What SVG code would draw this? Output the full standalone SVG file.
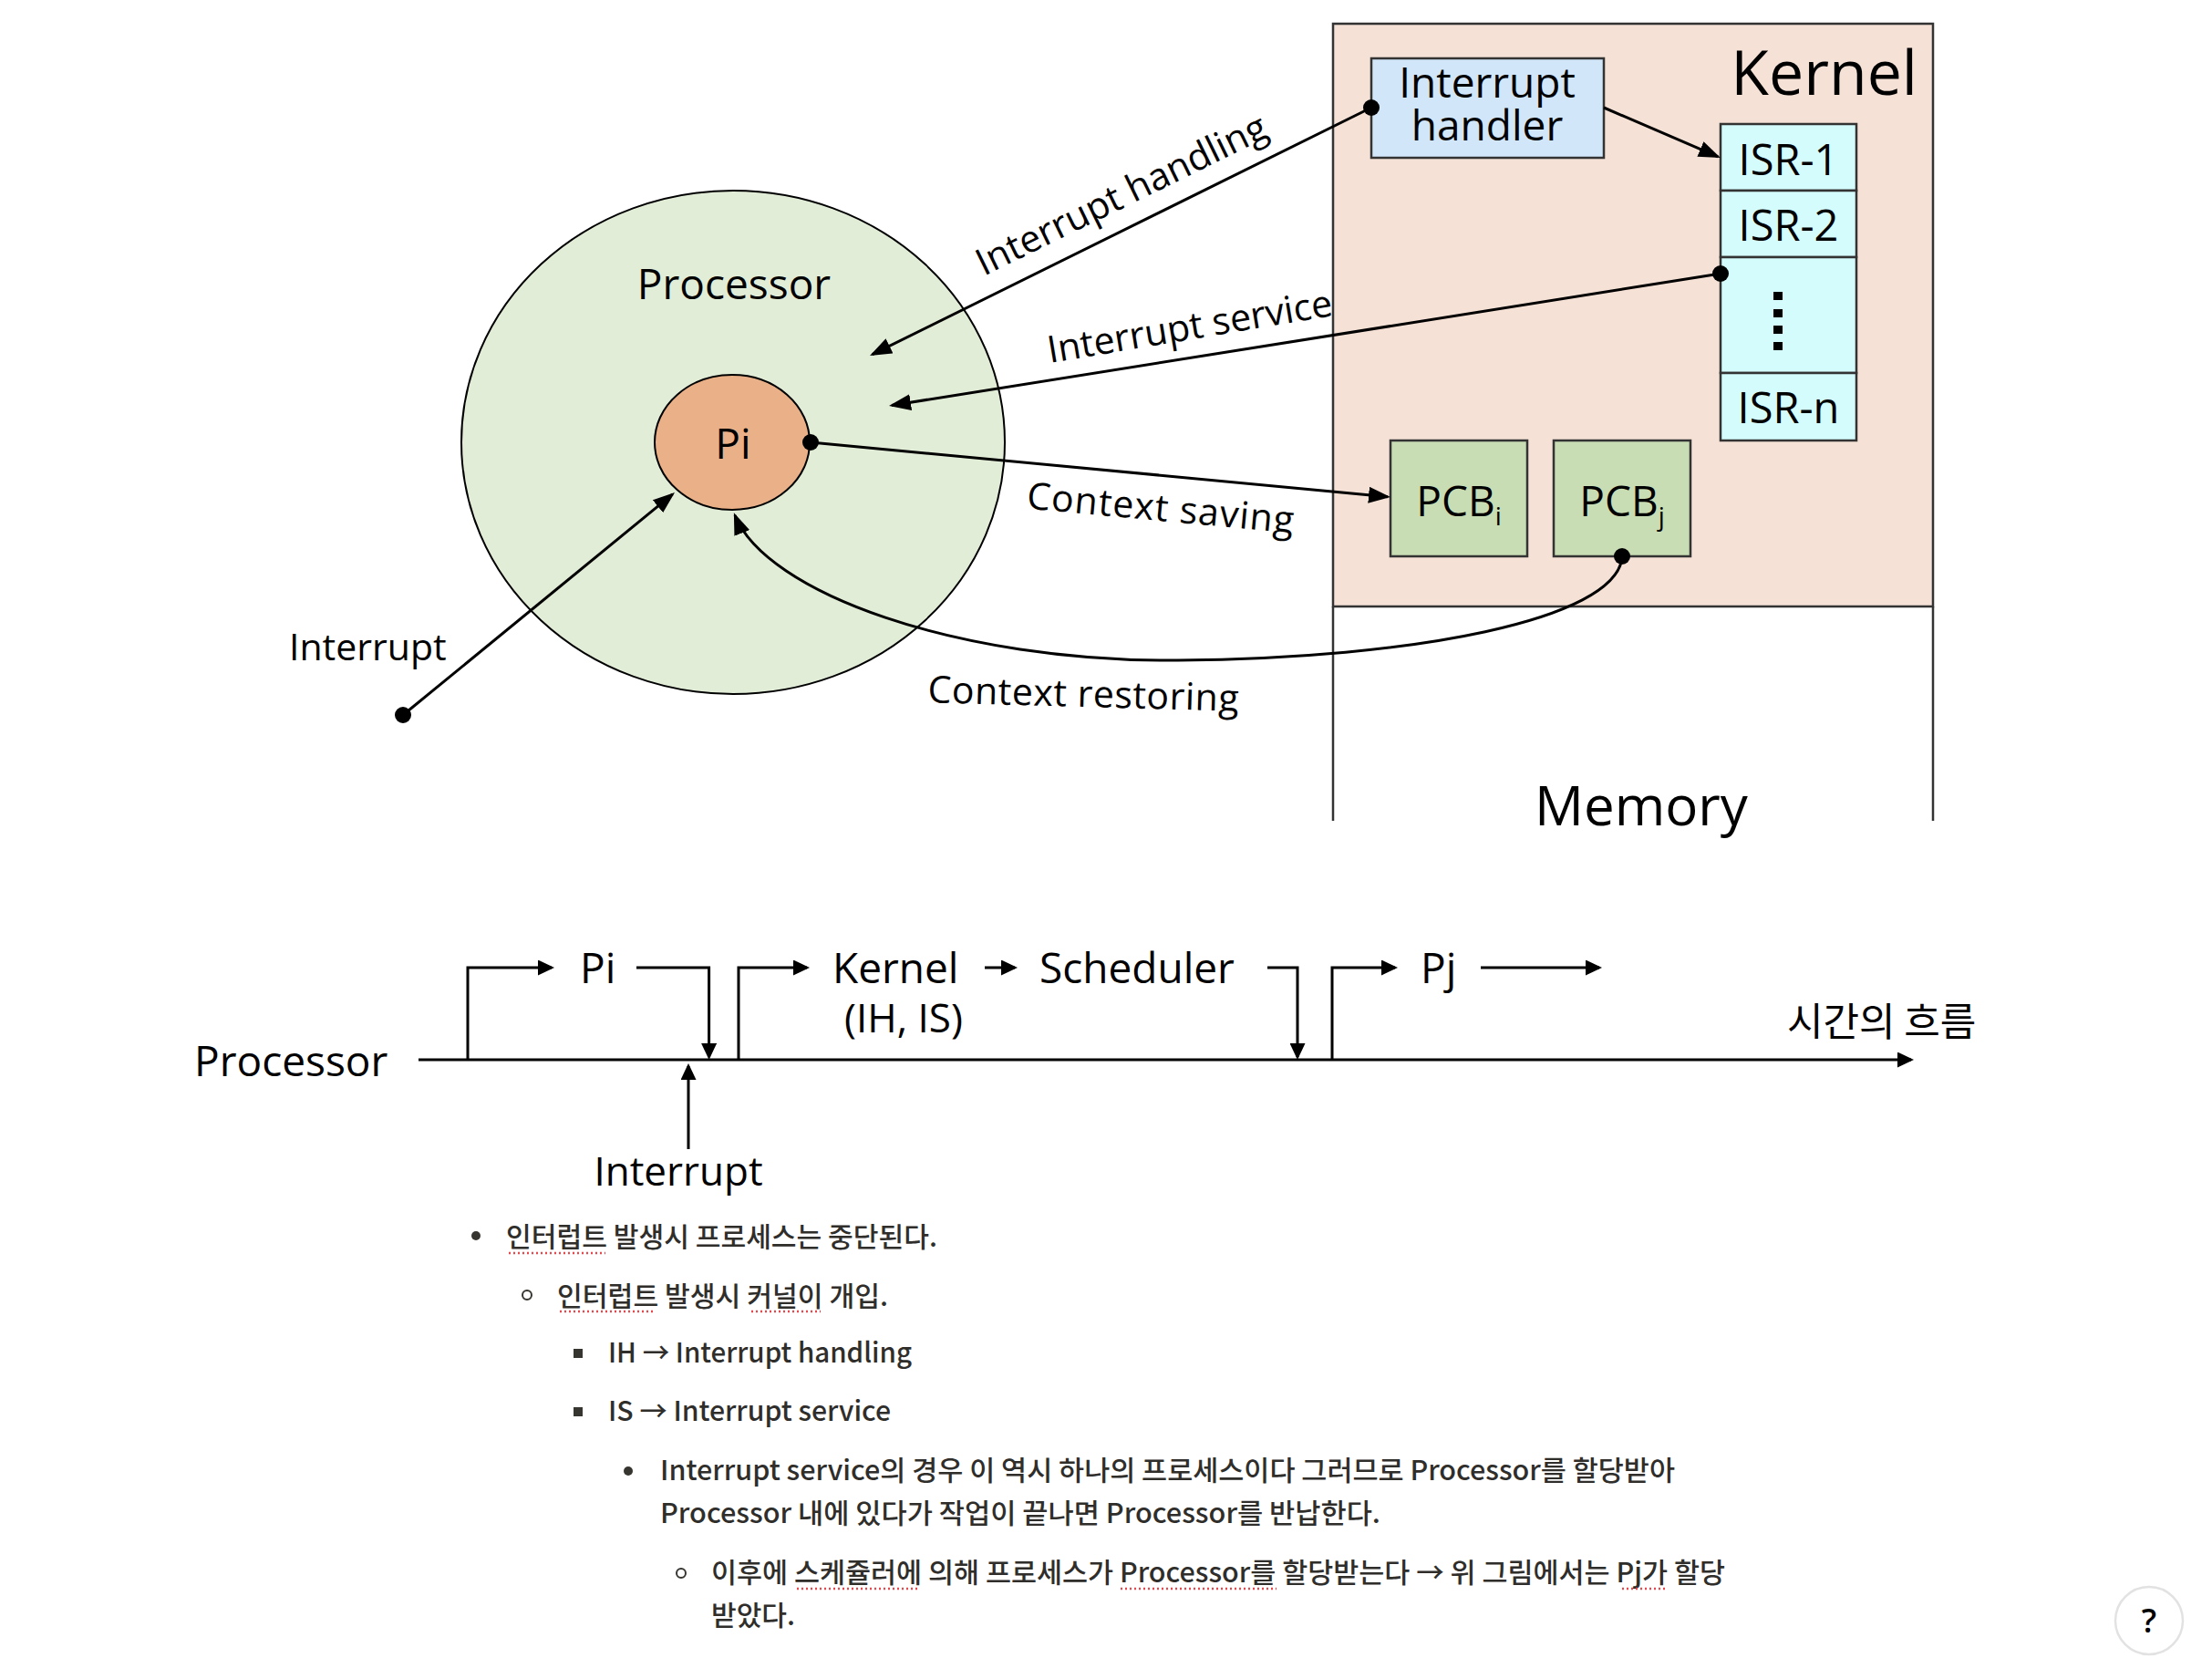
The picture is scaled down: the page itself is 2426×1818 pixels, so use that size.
<svg xmlns="http://www.w3.org/2000/svg" width="2426" height="1818" viewBox="0 0 2426 1818">
<defs>
<style>
text{font-family:"Open Sans","Noto Sans","Liberation Sans",sans-serif;fill:#000}
.lbl{font-size:41px}
.box{font-size:46px}
.ln{stroke:#000;stroke-width:3;fill:none}
.frame{stroke:#333;stroke-width:2.5}
.dot{fill:#000}
.kr{font-family:"Noto Sans CJK KR","Noto Sans",sans-serif}
.note{font-family:"Noto Sans CJK KR","Noto Sans",sans-serif;font-size:30px;font-weight:500;fill:#2F2E2B}
.spell{stroke:#E5484D;stroke-width:2.5;stroke-dasharray:2 3;fill:none}
.bul{fill:#37352F}
</style>
<marker id="ah" markerUnits="userSpaceOnUse" markerWidth="24" markerHeight="18" refX="21" refY="9" orient="auto"><path d="M0,0 L24,9 L0,18 z" fill="#000"/></marker>
<marker id="as" markerUnits="userSpaceOnUse" markerWidth="18" markerHeight="17" refX="15" refY="8.5" orient="auto"><path d="M0,0 L18,8.5 L0,17 z" fill="#000"/></marker>
</defs>
<rect width="2426" height="1818" fill="#fff"/>

<g id="memory">
<line class="frame" x1="1462" y1="665" x2="1462" y2="900"/>
<line class="frame" x1="2120" y1="665" x2="2120" y2="900"/>
<text x="1800" y="905" text-anchor="middle" font-size="60">Memory</text>
</g>
<g id="kernel">
<rect class="frame" x="1462" y="26" width="658" height="639" fill="#F5E1D5"/>
<text x="2103" y="104" text-anchor="end" font-size="68">Kernel</text>
</g>
<g id="interrupt-handler">
<rect class="frame" x="1504" y="64" width="255" height="109" fill="#D2E6F9"/>
<text class="box" text-anchor="middle"><tspan x="1631" y="107">Interrupt</tspan><tspan x="1631" y="154">handler</tspan></text>
</g>
<g id="isr-1"><rect class="frame" x="1887" y="136" width="149" height="73" fill="#D5FCFC"/><text x="1961.5" y="192" text-anchor="middle" font-size="47">ISR-1</text></g>
<g id="isr-2"><rect class="frame" x="1887" y="209" width="149" height="73" fill="#D5FCFC"/><text x="1961.5" y="264" text-anchor="middle" font-size="47">ISR-2</text></g>
<g id="isr-dots"><rect class="frame" x="1887" y="282" width="149" height="127" fill="#D5FCFC"/>
<rect x="1945" y="320" width="10" height="9"/><rect x="1945" y="339" width="10" height="9"/><rect x="1945" y="357" width="10" height="9"/><rect x="1945" y="375" width="10" height="9"/></g>
<g id="isr-n"><rect class="frame" x="1887" y="409" width="149" height="74" fill="#D5FCFC"/><text x="1961.5" y="464" text-anchor="middle" font-size="47">ISR-n</text></g>
<g id="pcb-i"><rect class="frame" x="1525" y="483" width="150" height="127" fill="#C9DDB4"/><text class="box" x="1600" y="566" text-anchor="middle">PCB<tspan font-size="28" dy="10">i</tspan></text></g>
<g id="pcb-j"><rect class="frame" x="1704" y="483" width="150" height="127" fill="#C9DDB4"/><text class="box" x="1779" y="566" text-anchor="middle">PCB<tspan font-size="28" dy="10">j</tspan></text></g>

<g id="processor">
<ellipse cx="804" cy="485" rx="298" ry="276" fill="#E2EDD8" stroke="#000" stroke-width="2"/>
<text class="box" x="805" y="328" text-anchor="middle">Processor</text>
</g>
<g id="pi">
<ellipse cx="803" cy="485" rx="85" ry="74" fill="#EAB088" stroke="#000" stroke-width="2"/>
<text class="box" x="804" y="503" text-anchor="middle">Pi</text>
</g>

<g id="connectors">
<line class="ln" x1="1504" y1="118" x2="956.7" y2="388.7" marker-end="url(#ah)"/>
<line class="ln" x1="1887" y1="300" x2="978" y2="444.5" marker-end="url(#ah)"/>
<line class="ln" x1="889" y1="485" x2="1522" y2="544.7" marker-end="url(#ah)"/>
<line class="ln" x1="1759" y1="118" x2="1884.2" y2="171.8" marker-end="url(#ah)"/>
<line class="ln" x1="442" y1="784" x2="737.7" y2="541.9" marker-end="url(#ah)"/>
<path class="ln" d="M1779,612 C1770,680 1550,722 1292,724 C1050,726 840,650 806,565" marker-end="url(#ah)"/>
<circle class="dot" cx="1504" cy="118" r="9"/>
<circle class="dot" cx="1887" cy="300" r="9"/>
<circle class="dot" cx="889" cy="485" r="9"/>
<circle class="dot" cx="1779" cy="610" r="9"/>
<circle class="dot" cx="442" cy="784" r="9"/>
<text class="lbl" text-anchor="middle" transform="translate(1236,226) rotate(-26.1)">Interrupt handling</text>
<text class="lbl" text-anchor="middle" transform="translate(1307,372) rotate(-9.5)">Interrupt service</text>
<text class="lbl" text-anchor="middle" letter-spacing="1" transform="translate(1272,571) rotate(5.3)">Context saving</text>
<text class="lbl" text-anchor="middle" letter-spacing="0.5" transform="translate(1188,775) rotate(1.6)">Context restoring</text>
<text class="lbl" x="317" y="724">Interrupt</text>
</g>

<g id="timeline">
<text class="box" x="213" y="1180">Processor</text>
<text class="box" x="636" y="1078">Pi</text>
<text class="box" x="913" y="1078">Kernel</text>
<text x="926" y="1132" font-size="44">(IH, IS)</text>
<text class="box" x="1140" y="1078">Scheduler</text>
<text class="box" x="1558" y="1078">Pj</text>
<text x="744" y="1300" text-anchor="middle" font-size="44">Interrupt</text>
<text class="kr" x="1960" y="1136" font-size="43">시간의 흐름</text>
</g>
<g id="timeline-connectors">
<path class="ln" d="M459,1162 H2096" marker-end="url(#as)"/>
<path class="ln" d="M513,1162 V1061 H605" marker-end="url(#as)"/>
<path class="ln" d="M698,1061 H777.6 V1159" marker-end="url(#as)"/>
<path class="ln" d="M755,1260 V1169" marker-end="url(#as)"/>
<path class="ln" d="M810,1162 V1061 H885" marker-end="url(#as)"/>
<path class="ln" d="M1080,1061 H1113" marker-end="url(#as)"/>
<path class="ln" d="M1390,1061 H1423 V1159" marker-end="url(#as)"/>
<path class="ln" d="M1461,1162 V1061 H1530" marker-end="url(#as)"/>
<path class="ln" d="M1624,1061 H1754" marker-end="url(#as)"/>
</g>

<g id="notes">
<circle class="bul" cx="522" cy="1355" r="5"/>
<text class="note" x="555" y="1367" textLength="473" lengthAdjust="spacingAndGlyphs">인터럽트 발생시 프로세스는 중단된다.</text>
<line class="spell" x1="558" y1="1374" x2="664" y2="1374"/>
<circle cx="578" cy="1420" r="5" fill="none" stroke="#37352F" stroke-width="2"/>
<text class="note" x="611" y="1432" textLength="363" lengthAdjust="spacingAndGlyphs">인터럽트 발생시 커널이 개입.</text>
<line class="spell" x1="614" y1="1438" x2="719" y2="1438"/>
<line class="spell" x1="824" y1="1438" x2="900" y2="1438"/>
<rect class="bul" x="629" y="1479" width="10" height="10"/>
<text class="note" x="667" y="1494" textLength="333" lengthAdjust="spacingAndGlyphs">IH → Interrupt handling</text>
<rect class="bul" x="629" y="1543" width="10" height="10"/>
<text class="note" x="667" y="1558" textLength="310" lengthAdjust="spacingAndGlyphs">IS → Interrupt service</text>
<circle class="bul" cx="689" cy="1613" r="5"/>
<text class="note" x="724" y="1623" textLength="1113" lengthAdjust="spacingAndGlyphs">Interrupt service의 경우 이 역시 하나의 프로세스이다 그러므로 Processor를 할당받아</text>
<text class="note" x="724" y="1670" textLength="790" lengthAdjust="spacingAndGlyphs">Processor 내에 있다가 작업이 끝나면 Processor를 반납한다.</text>
<circle cx="747" cy="1725" r="5" fill="none" stroke="#37352F" stroke-width="2"/>
<text class="note" x="780" y="1735" textLength="1112" lengthAdjust="spacingAndGlyphs">이후에 스케쥴러에 의해 프로세스가 Processor를 할당받는다 → 위 그림에서는 Pj가 할당</text>
<line class="spell" x1="874" y1="1742" x2="1007" y2="1742"/>
<line class="spell" x1="1229" y1="1742" x2="1400" y2="1742"/>
<line class="spell" x1="1779" y1="1742" x2="1826" y2="1742"/>
<text class="note" x="780" y="1782" textLength="92" lengthAdjust="spacingAndGlyphs">받았다.</text>
</g>

<g id="help-button">
<circle cx="2357" cy="1777" r="37" fill="#fff" stroke="#E2E2E2" stroke-width="2.5"/>
<text x="2357" y="1790" text-anchor="middle" font-size="36" font-weight="600" fill="#37352F">?</text>
</g>
</svg>
